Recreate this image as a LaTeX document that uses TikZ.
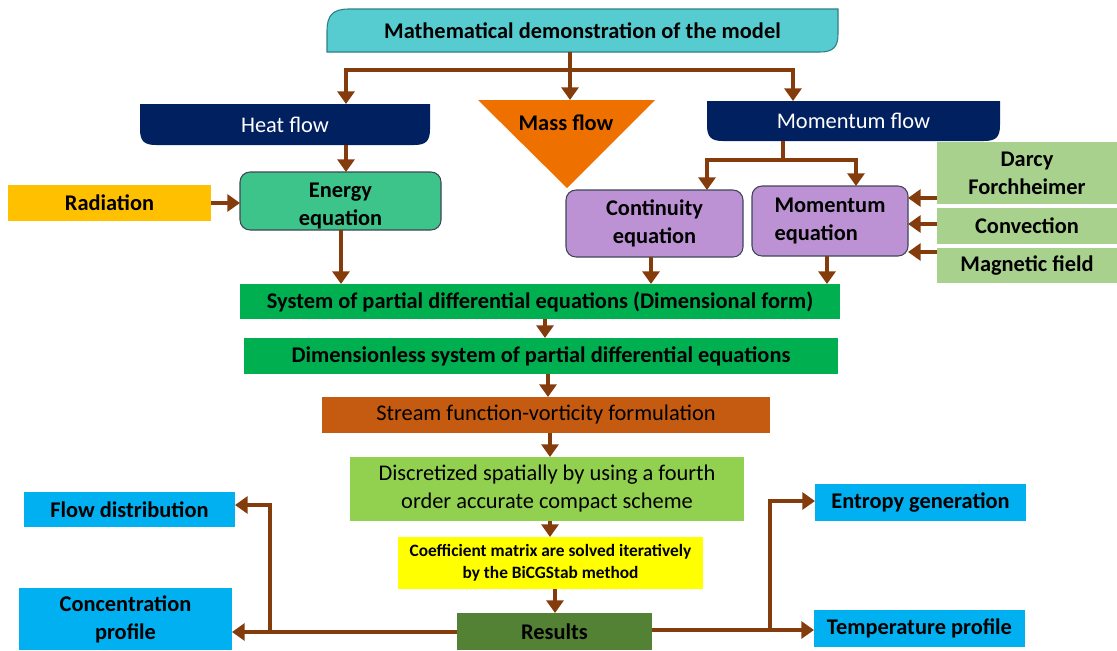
\documentclass[tikz,border=0pt]{standalone}
\usepackage{fontspec}
\setmainfont{Carlito}
\usetikzlibrary{arrows.meta,backgrounds,calc}
\definecolor{tealc}{HTML}{56CCD0}
\definecolor{tealedge}{HTML}{2F7F86}
\definecolor{navyc}{HTML}{002060}
\definecolor{orangec}{HTML}{EE7100}
\definecolor{energyc}{HTML}{3DC48B}
\definecolor{radc}{HTML}{FFC000}
\definecolor{purplec}{HTML}{BD92D5}
\definecolor{lgreenc}{HTML}{A9D18E}
\definecolor{pdec}{HTML}{00B050}
\definecolor{streamc}{HTML}{C55A11}
\definecolor{discc}{HTML}{92D050}
\definecolor{yellowc}{HTML}{FFFF00}
\definecolor{resc}{HTML}{548235}
\definecolor{bluec}{HTML}{00B0F0}
\definecolor{arrowc}{HTML}{843C0C}
\definecolor{edgec}{HTML}{3E4656}
\begin{document}
\begin{tikzpicture}[x=0.75pt,y=0.75pt,
  box/.style n args={4}{anchor=north west, at={(#1,-#2)},
    minimum width={(#3-#1)*0.75pt}, minimum height={(#4-#2)*0.75pt},
    inner sep=0pt, outer sep=0pt, align=center},
  txt/.style={font=\fontsize{16.8}{21}\selectfont},
  btxt/.style={font=\fontsize{16.8}{21}\selectfont\bfseries},
  arr/.style={draw=arrowc, line width=3.4pt, -{Triangle[width=12.75pt,length=9.5pt]}},
  ln/.style={draw=arrowc, line width=3.4pt},
  req/.style={rounded corners=7.5pt, draw=edgec, line width=0.8pt}
]
\useasboundingbox (0,0) rectangle (1117,-650);
% helper coordinates
\coordinate (jt) at (570,-70);
\coordinate (jm) at (783,-160);
\coordinate (jl) at (270,-632);
\coordinate (jr) at (770,-630);
\coordinate (masstop) at (570,-100);
\foreach \v in {341,346,545,548,550,555,651,707,793,827,856}{\coordinate (x\v) at (\v,0);}
\foreach \v in {198,224,252,501,505}{\coordinate (y\v) at (0,-\v);}

% nodes
\node[box={327}{9}{838}{52}, btxt] (title) {Mathematical demonstration of the model};
\node[box={140}{104}{430}{145}, txt, text=white] (heat) {Heat flow};
\node[box={707}{101}{1000}{141}, txt, text=white] (momf) {Momentum flow};
\node[btxt] (mass) at (566,-123) {Mass flow};
\node[box={240}{172}{441}{230}, req, fill=energyc] (energy) {};
\node[btxt, align=center, yshift=-3.5pt] (energytext) at (energy.center) {Energy\\equation};
\node[box={8}{185}{211}{221}, btxt, fill=radc] (rad) {Radiation};
\node[box={566}{190}{743}{257}, btxt, req, fill=purplec] (cont) {Continuity\\equation};
\node[box={752}{186}{908}{256}, btxt, req, fill=purplec, align=left] (mome) {Momentum\\equation};
\node[box={937}{142}{1117}{204}, btxt, fill=lgreenc] (darcy) {Darcy\\Forchheimer};
\node[box={937}{208}{1117}{244}, btxt, fill=lgreenc] (conv) {Convection};
\node[box={937}{248}{1117}{283}, btxt, fill=lgreenc] (magn) {Magnetic field};
\node[box={240}{284}{840}{319}, btxt, fill=pdec] (pde1) {System of partial differential equations (Dimensional form)};
\node[box={244}{338}{838}{374}, btxt, fill=pdec] (pde2) {Dimensionless system of partial differential equations};
\node[box={322}{397}{770}{433}, txt, fill=streamc] (stream) {Stream function-vorticity formulation};
\node[box={350}{457}{744}{521}, txt, fill=discc] (disc) {Discretized spatially by using a fourth\\order accurate compact scheme};
\node[box={398}{537}{703}{589}, fill=yellowc, font=\fontsize{13}{16.5}\selectfont\bfseries] (coef) {Coefficient matrix are solved iteratively\\by the BiCGStab method};
\node[box={457}{613}{652}{650}, btxt, fill=resc] (res) {Results};
\node[box={24}{492}{235}{527}, btxt, fill=bluec] (flow) {Flow distribution};
\node[box={19}{588}{232}{650}, btxt, fill=bluec] (conc) {Concentration\\profile};
\node[box={815}{484}{1026}{521}, btxt, fill=bluec] (entropy) {Entropy generation};
\node[box={814}{610}{1025}{647}, btxt, fill=bluec] (temp) {Temperature profile};

% special shapes behind text
\begin{scope}[on background layer]
\filldraw[fill=tealc, draw=tealedge, line width=0.8pt]
  ($(title.north west)+(0,-22)$) .. controls ($(title.north west)+(0,-6)$) and ($(title.north west)+(6,0)$) .. ($(title.north west)+(22,0)$)
  -- (title.north east) -- ($(title.south east)+(0,18)$)
  .. controls ($(title.south east)+(0,5)$) and ($(title.south east)+(-5,0)$) .. ($(title.south east)+(-18,0)$)
  -- (title.south west) -- cycle;
\foreach \n in {heat,momf}{
\fill[navyc] (\n.north west) -- (\n.north east) -- ($(\n.south east)+(0,16)$)
  .. controls ($(\n.south east)+(0,4)$) and ($(\n.south east)+(-4,0)$) .. ($(\n.south east)+(-16,0)$)
  -- ($(\n.south west)+(16,0)$) .. controls ($(\n.south west)+(4,0)$) and ($(\n.south west)+(0,4)$) .. ($(\n.south west)+(0,16)$) -- cycle;
}
\fill[orangec] (478,-100) -- (655,-100) -- (567,-188) -- cycle;
\end{scope}

% connectors
\draw[arr] (title.south -| masstop) -- (masstop);
\draw[arr] (jt) -| (heat.north -| x346);
\draw[arr] (jt) -| (momf.north -| x793);
\draw[arr] (heat.south -| x346) -- (energy.north -| x346);
\draw[arr] (rad.east) -- (rad.east -| energy.west);
\draw[arr] (energy.south -| x341) -- (pde1.north -| x341);
\draw[ln] (momf.south -| jm) -- (jm);
\draw[arr] (jm) -| (cont.north -| x707);
\draw[arr] (jm) -| (mome.north -| x856);
\draw[arr] (darcy.west |- y198) -- (mome.east |- y198);
\draw[arr] (conv.west |- y224) -- (mome.east |- y224);
\draw[arr] (magn.west |- y252) -- (mome.east |- y252);
\draw[arr] (cont.south -| x651) -- (pde1.north -| x651);
\draw[arr] (mome.south -| x827) -- (pde1.north -| x827);
\draw[arr] (pde1.south -| x545) -- (pde2.north -| x545);
\draw[arr] (pde2.south -| x548) -- (stream.north -| x548);
\draw[arr] (stream.south -| x550) -- (disc.north -| x550);
\draw[arr] (disc.south -| x550) -- (coef.north -| x550);
\draw[arr] (coef.south -| x555) -- (res.north -| x555);
\draw[arr] (res.west |- jl) -- (conc.east |- jl);
\draw[arr] (jl) |- (flow.east |- y505);
\draw[arr] (res.east |- jr) -- (temp.west |- jr);
\draw[arr] (jr) |- (entropy.west |- y501);
\end{tikzpicture}
\end{document}
